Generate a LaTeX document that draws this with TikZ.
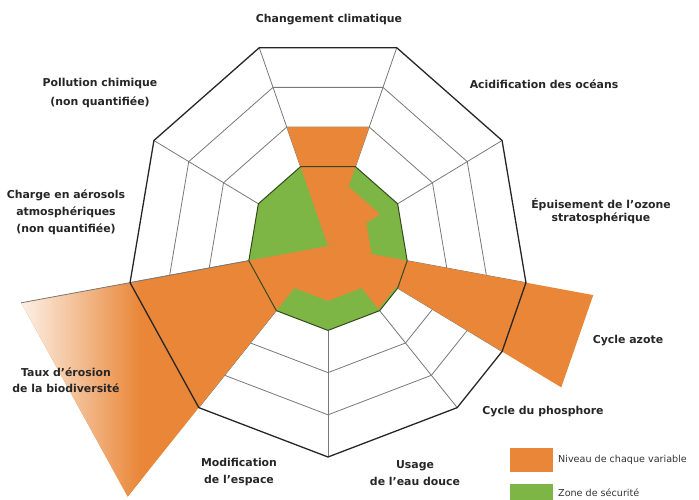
\documentclass[tikz,border=0pt]{standalone}
\usepackage{fontspec}
\setmainfont{DejaVu Sans}
\definecolor{pbOrange}{RGB}{233,134,55}
\definecolor{pbGreen}{RGB}{125,182,68}
\definecolor{pbGrid}{RGB}{120,120,120}
\definecolor{pbEdge}{RGB}{50,75,30}
\newcommand{\ringdraw}[2]{\draw[#1] (270:#2) -- (310:#2) -- (330:#2) -- (350:#2) -- (30:#2) -- (70:#2) -- (110:#2) -- (150:#2) -- (190:#2) -- (230:#2) -- cycle;}
\newcommand{\ringfill}[2]{\fill[#1] (270:#2) -- (310:#2) -- (330:#2) -- (350:#2) -- (30:#2) -- (70:#2) -- (110:#2) -- (150:#2) -- (190:#2) -- (230:#2) -- cycle;}
\tikzset{
  gridline/.style={draw=pbGrid, line width=0.8pt},
  outerring/.style={draw=black!85, line width=1.3pt, line join=miter},
  safeline/.style={draw=pbEdge, line width=1pt},
  wedge/.style={fill=pbOrange},
  lab/.style={align=center, inner sep=0pt, text=black!85, font=\bfseries\fontsize{10.9}{17}\selectfont},
  legtxt/.style={inner sep=0pt, text=black!80, font=\fontsize{9.6}{11}\selectfont},
}
\begin{document}
\begin{tikzpicture}[x=1pt, y=-1pt]
\useasboundingbox (0,0) rectangle (699,500);
\begin{scope}[shift={(328,246)}, x=201pt, y=211pt]
  % grid
  \ringdraw{gridline}{0.6}
  \ringdraw{gridline}{0.8}
  \foreach \a in {270,310,330,350,30,70,110,150,190,230}
    \draw[gridline] (0,0) -- (\a:1);
  % safe zone
  \ringfill{pbGreen}{0.4}
  % wedges
  \fill[wedge] (0,0) -- (70:0.6) -- (110:0.6) -- cycle;   % climat
  \fill[wedge] (0,0) -- (30:0.3) -- (70:0.3) -- cycle;    % acidification
  \fill[wedge] (0,0) -- (350:0.22) -- (30:0.22) -- cycle; % ozone
  \fill[wedge] (0,0) -- (330:1.34) -- (350:1.34) -- cycle; % azote
  \fill[wedge] (0,0) -- (310:0.39) -- (330:0.39) -- cycle; % phosphore
  \fill[wedge] (0,0) -- (270:0.26) -- (310:0.26) -- cycle; % eau douce
  \fill[wedge] (0,0) -- (230:0.26) -- (270:0.26) -- cycle; % espace
  \fill[wedge] (0,0) -- (190:1.55) -- (230:1.55) -- cycle; % biodiversite
  \begin{scope}
    \clip (0,0) -- (190:1.55) -- (230:1.55) -- cycle;
    \shade[left color=white, right color=pbOrange] (-1.61,-1.3) rectangle (-0.93,0.1);
  \end{scope}
  \draw[gridline] (190:0.4) -- (190:1.55);
  % outlines on top
  \ringdraw{safeline}{0.4}
  \ringdraw{outerring}{1}
\end{scope}
% labels
\node[lab] (cc) at (329,20) {Changement climatique};
\node[lab] (ao) at (544,84) {Acidification des océans};
\node[lab, font=\bfseries\fontsize{10.9}{13}\selectfont] (oz) at (601,211) {Épuisement de l'ozone\\stratosphérique};
\node[lab] (na) at (628,341) {Cycle azote};
\node[lab] (ph) at (543,412) {Cycle du phosphore};
\node[lab] (ed) at (415,473) {Usage\\de l'eau douce};
\node[lab] (ls) at (239,472) {Modification\\de l'espace};
\node[lab, font=\bfseries\fontsize{10.9}{15.5}\selectfont] (bd) at (66,380) {Taux d'érosion\\de la biodiversité};
\node[lab] (ae) at (66,212) {Charge en aérosols\\atmosphériques\\(non quantifiée)};
\node[lab, font=\bfseries\fontsize{10.9}{19}\selectfont] (pc) at (100,93) {Pollution chimique\\(non quantifiée)};
% legend
\fill[pbOrange] (510,448) rectangle (553,472);
\fill[pbGreen] (510,484) rectangle (553,500);
\node[legtxt, anchor=west] (l1) at (558,460) {Niveau de chaque variable};
\node[legtxt, anchor=west] (l2) at (558,493) {Zone de sécurité};
\end{tikzpicture}
\end{document}
